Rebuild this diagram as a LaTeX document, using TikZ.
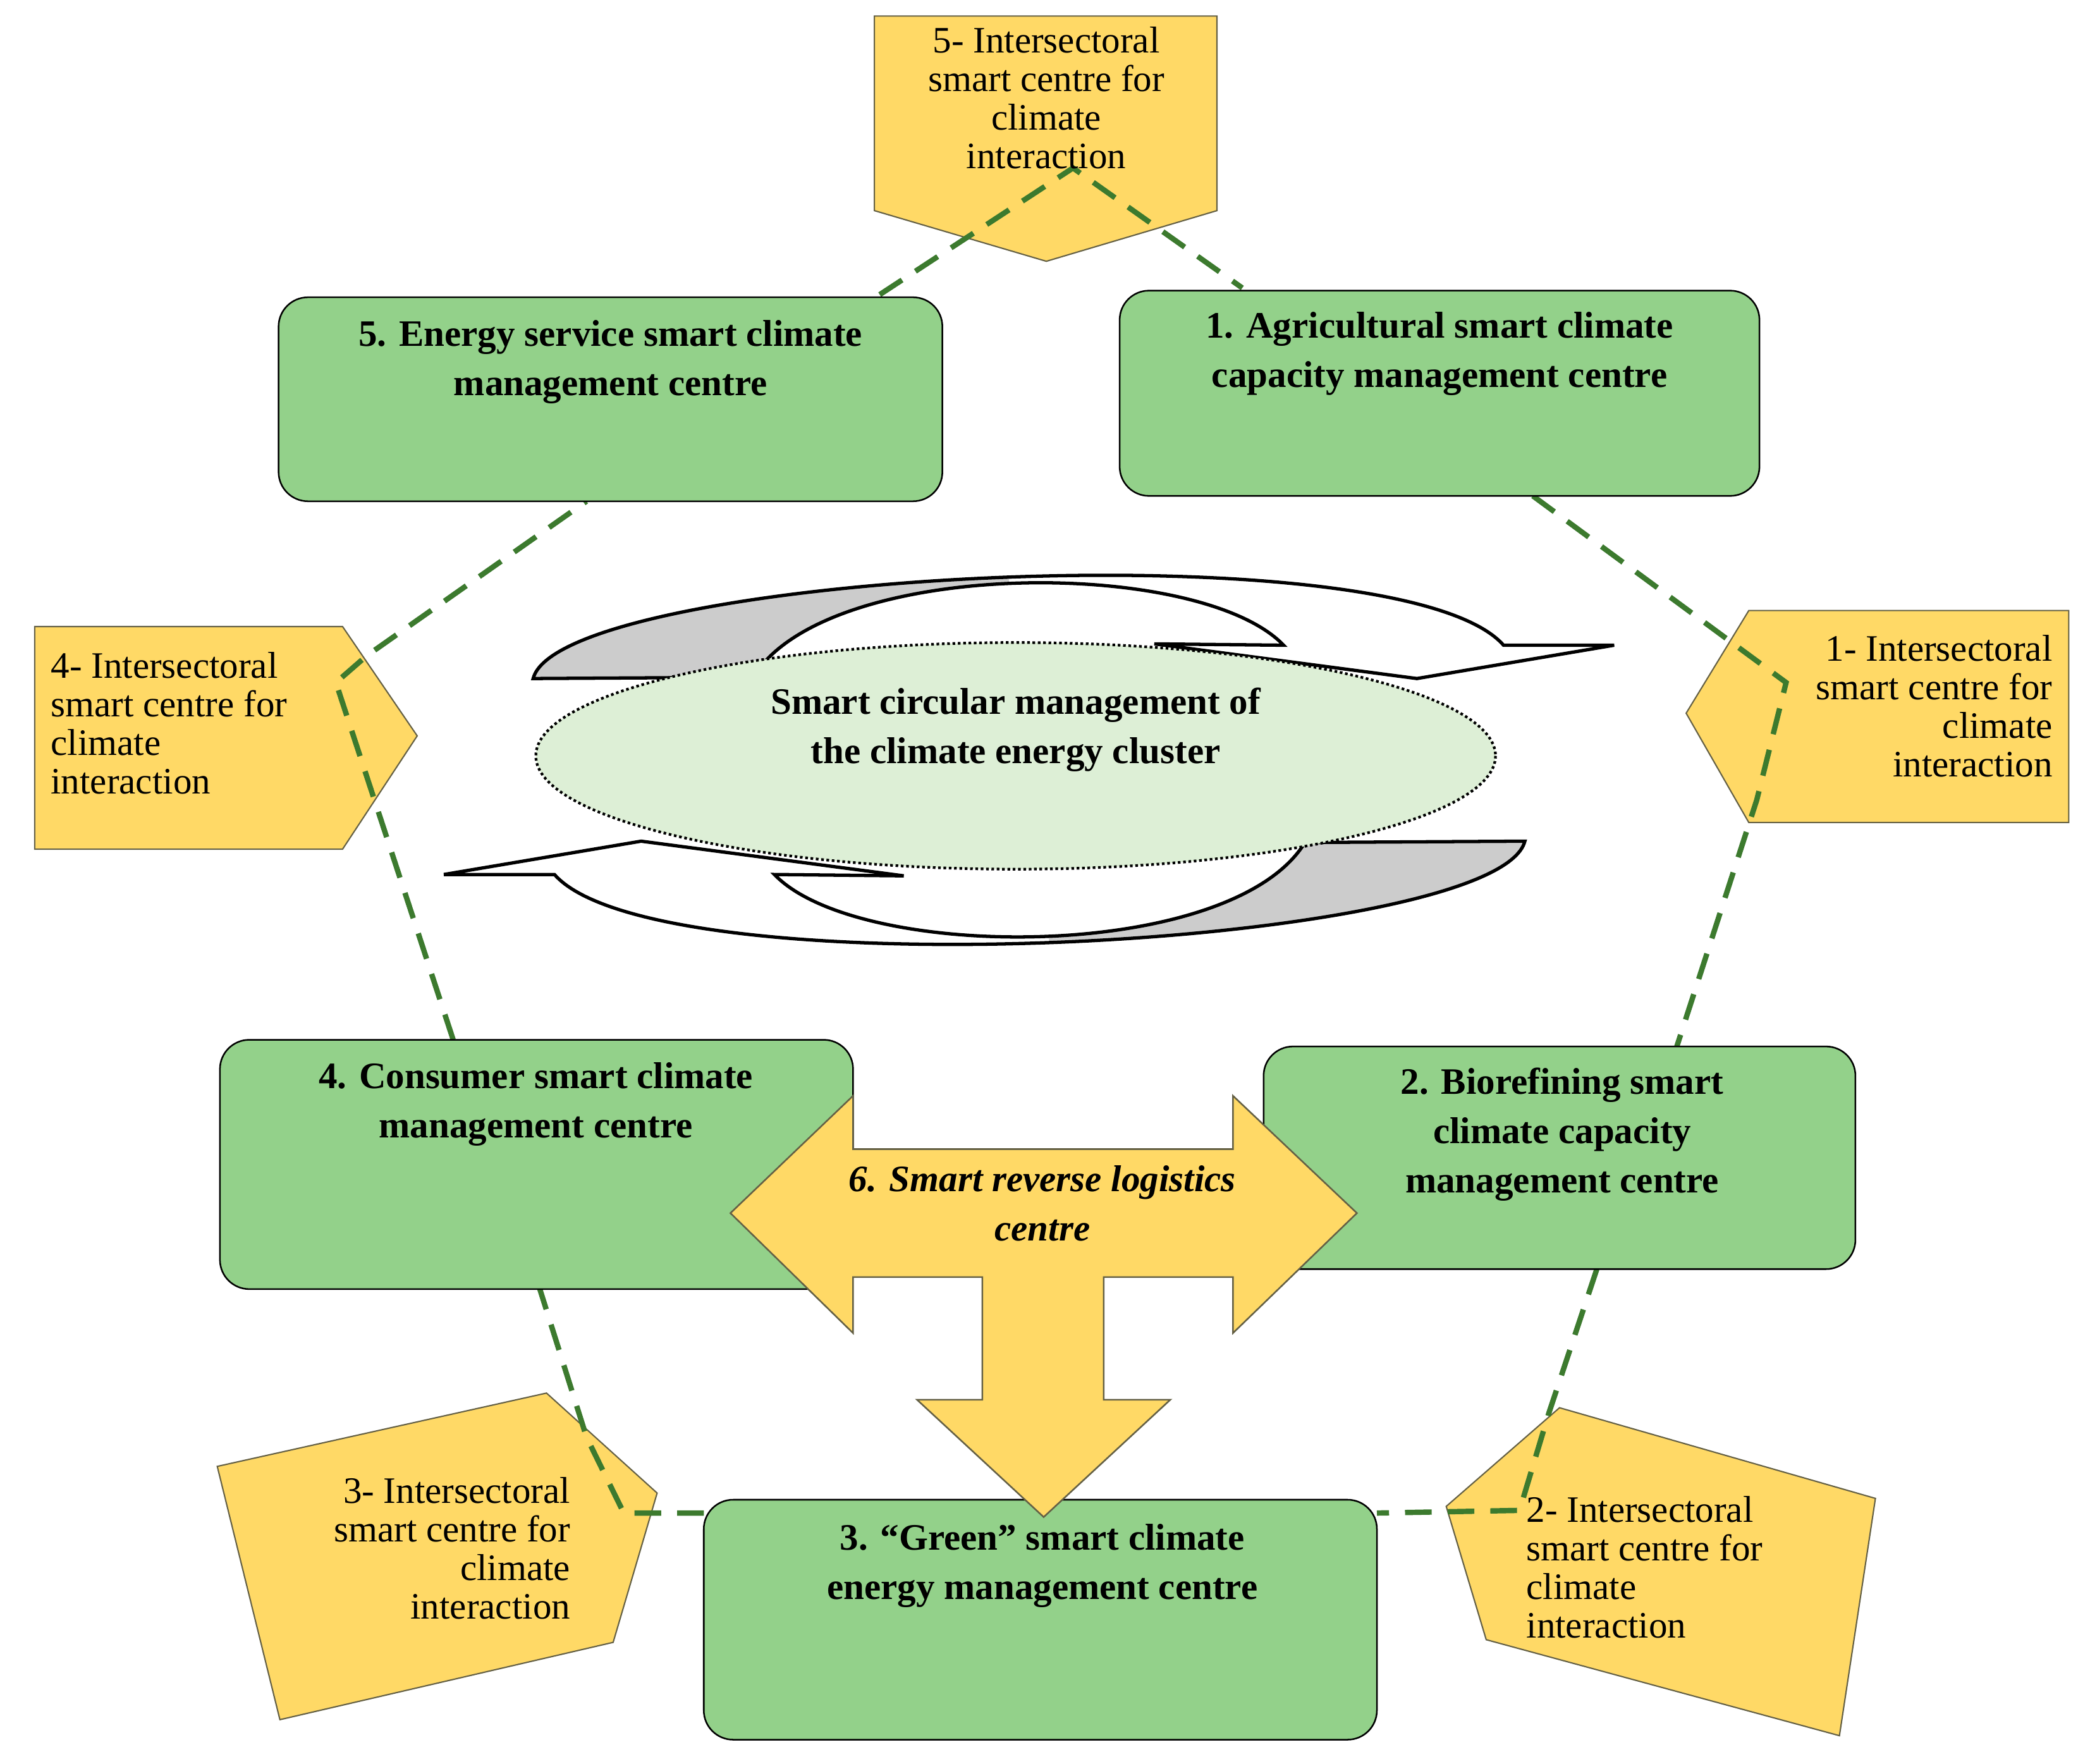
\documentclass[tikz,border=0pt]{standalone}
\usepackage{fontspec}
\setmainfont{Liberation Serif}
\begin{document}
\begin{tikzpicture}[x=1pt,y=-1pt,
  box/.style={draw=black,line width=1.2pt,fill=boxgreen,rounded corners=22pt},
  pent/.style={draw=black!70!yellow,line width=1pt,fill=penty},
  link/.style={draw=linkgreen,line width=4pt,dash pattern=on 20pt off 12pt},
  bt/.style={font=\fontsize{28}{37}\selectfont\bfseries,align=center,inner sep=0pt,anchor=north},
  yt/.style={font=\fontsize{28}{29}\selectfont,inner sep=0pt,anchor=north}]
\definecolor{boxgreen}{HTML}{93D18A}
\definecolor{penty}{HTML}{FFD966}
\definecolor{linkgreen}{HTML}{3C7A2E}
\definecolor{ellgreen}{HTML}{DDEFD6}
\useasboundingbox (0,0) rectangle (1568,1323);

% pentagons
\draw[pent] (656,12) -- (913,12) -- (913,158) -- (785,196) -- (656,158) -- cycle;
\draw[pent] (1265,535) -- (1312,458) -- (1552,458) -- (1552,617) -- (1312,617) -- cycle;
\draw[pent] (26,470) -- (257,470) -- (313,552) -- (257,637) -- (26,637) -- cycle;
\draw[pent] (163,1100) -- (410,1045) -- (493,1120) -- (460,1232) -- (210,1290) -- cycle;
\draw[pent] (1085,1130) -- (1170,1056) -- (1407,1124) -- (1380,1302) -- (1115,1230) -- cycle;

% coordinates of links
\coordinate (t5) at (805,126);
\coordinate (t1) at (1340,512);
\coordinate (t1b) at (1318,600);
\coordinate (t2) at (1162,1060);
\coordinate (t2b) at (1140,1133);
\coordinate (t3) at (468,1135);
\coordinate (t3b) at (440,1078);
\coordinate (t4) at (252,512);
\coordinate (t4b) at (275,492);

\draw[link] (660,221) -- (t5) -- (932,216);
\draw[link] (1150,372) -- (t1) -- (t1b) -- (1258,785);
\draw[link] (1198,952) -- (t2) -- (t2b) -- (1033,1135);
\draw[link] (528,1135) -- (t3) -- (t3b) -- (405,967);
\draw[link] (340,780) -- (t4) -- (t4b) -- (440,376);

% green boxes
\draw[box] (209,223) rectangle (707,376);
\draw[box] (840,218) rectangle (1320,372);
\draw[box] (165,780) rectangle (640,967);
\draw[box] (948,785) rectangle (1392,952);
\draw[box] (528,1125) rectangle (1033,1305);

\node[bt] (b5) at (458,240) {5. Energy service smart climate\\management centre};
\node[bt] (b1) at (1080,234) {1. Agricultural smart climate\\capacity management centre};
\node[bt] (b4) at (402,797) {4. Consumer smart climate\\management centre};
\node[bt] (b2) at (1172,801) {2. Biorefining smart\\climate capacity\\management centre};
\node[bt] (b3) at (782,1143) {3. “Green” smart climate\\energy management centre};

% pentagon texts
\node[yt,align=center] (p5) at (785,20) {5- Intersectoral\\smart centre for\\climate\\interaction};
\node[yt,align=right,anchor=north east] (p1) at (1540,476) {1- Intersectoral\\smart centre for\\climate\\interaction};
\node[yt,align=left,anchor=north west] (p4) at (38,489) {4- Intersectoral\\smart centre for\\climate\\interaction};
\node[yt,align=right,anchor=north east] (p3) at (428,1108) {3- Intersectoral\\smart centre for\\climate\\interaction};
\node[yt,align=left,anchor=north west] (p2) at (1145,1122) {2- Intersectoral\\smart centre for\\climate\\interaction};

% circular arrows
\def\toparrow{(400,509) .. controls (420,430) and (1050,395) .. (1128,484)
  -- (1211,484) -- (1063,509) -- (866,483) -- (963,484)
  .. controls (900,418) and (620,418) .. (565,508) -- cycle}
\begin{scope}[line width=2.5pt,line join=miter]
  \fill[white] \toparrow;
  \begin{scope}
    \clip (300,380) rectangle (757,520);
    \fill[black!20] \toparrow;
  \end{scope}
  \draw \toparrow;
  \begin{scope}[rotate around={180:(772,570)}]
    \fill[white] \toparrow;
    \begin{scope}
      \clip (300,380) rectangle (757,520);
      \fill[black!20] \toparrow;
    \end{scope}
    \draw \toparrow;
  \end{scope}
\end{scope}

% central ellipse
\draw[fill=ellgreen,line width=2pt,dash pattern=on 2pt off 2pt] (762,567) ellipse [x radius=360,y radius=85];
\node[bt] (c) at (762,516) {Smart circular management of\\the climate energy cluster};

% reverse logistics arrow
\draw[pent,line width=1.2pt] (548,910) -- (640,822) -- (640,862) -- (925,862) -- (925,822)
  -- (1018,910) -- (925,1000) -- (925,958) -- (828,958) -- (828,1050) -- (878,1050)
  -- (783,1138) -- (688,1050) -- (737,1050) -- (737,958) -- (640,958) -- (640,1000) -- cycle;
\node[bt,font=\fontsize{28}{37}\selectfont\bfseries\itshape] (c6) at (782,874) {6. Smart reverse logistics\\centre};
\end{tikzpicture}
\end{document}
